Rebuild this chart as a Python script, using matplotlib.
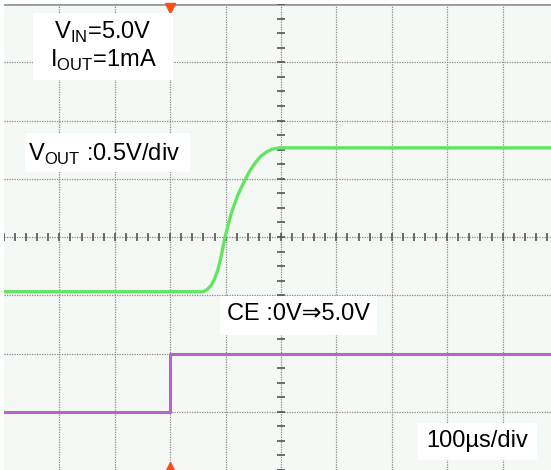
import matplotlib
matplotlib.use("Agg")
import matplotlib.pyplot as plt
from matplotlib.patches import Rectangle
import numpy as np

plt.rcParams['font.family'] = ['Liberation Sans', 'DejaVu Sans']
plt.rcParams['mathtext.fontset'] = 'custom'
plt.rcParams['mathtext.rm'] = 'Liberation Sans'

# traces in divisions (x: 100us/div, y: screen divisions)
vout_t = [-5, -1.40, -1.33, -1.26, -1.20, -1.14, -1.08, -1.01, -0.90, -0.78, -0.66,
          -0.56, -0.46, -0.36, -0.26, -0.15, -0.02, 5]
vout_v = [-0.94, -0.94, -0.90, -0.83, -0.72, -0.57, -0.33, 0.0, 0.40, 0.72, 0.96,
          1.14, 1.28, 1.39, 1.46, 1.51, 1.53, 1.53]
ce_t = [-5, -2, -2, 5]
ce_v = [-3, -3, -2, -2]
trig_t = -2

fig = plt.figure(figsize=(5.51, 4.70), dpi=100)
fig.patch.set_facecolor('white')
ax = fig.add_axes([4 / 551, 0, 554 / 551, 466 / 470])
ax.set_xlim(-5, 5)
ax.set_ylim(-4, 4)
ax.set_facecolor('#f5f9f5')
for s in ax.spines.values():
    s.set_visible(False)
ax.set_xticks([])
ax.set_yticks([])

# graticule
for gx in range(-4, 5):
    ax.axvline(gx, color='#8a8a8a', lw=0.9, ls=(0, (1, 1)), zorder=1)
for gy in range(-3, 4):
    ax.axhline(gy, color='#8a8a8a', lw=0.9, ls=(0, (1, 1)), zorder=1)
ax.axhline(4, color='#9a9a9a', lw=2, zorder=1)
minor = np.arange(-5, 5.01, 0.2)
ax.plot(minor, np.zeros_like(minor), ls='none', marker='|', ms=6, mew=1.2, color='#555555', zorder=2)
minor_y = np.arange(-4, 4.01, 0.25)
ax.plot(np.zeros_like(minor_y), minor_y, ls='none', marker='_', ms=6, mew=1.2, color='#555555', zorder=2)

# traces
ax.plot(vout_t, vout_v, color='#62e562', lw=2.4, zorder=3, solid_joinstyle='round')
ax.plot(ce_t, ce_v, color='#b764cf', lw=2.2, zorder=3)

# trigger markers
ax.plot([trig_t], [3.93], marker='v', ms=7, color='#ff4a1a', zorder=4, clip_on=False)
ax.plot([trig_t], [-3.95], marker='^', ms=7, color='#ff4a1a', zorder=4, clip_on=False)

# labels
boxes = [(-4.48, 2.69, 2.53, 1.15), (-4.62, 1.11, 2.98, 0.67),
         (-1.10, -1.68, 2.83, 0.67), (2.47, -3.83, 2.15, 0.64)]
for bx, by, bw, bh in boxes:
    ax.add_patch(Rectangle((bx, by), bw, bh, facecolor='white', edgecolor='none', zorder=5))

fs = 17
ax.text(-3.21, 3.52, r'V$_{\mathrm{IN}}$=5.0V', fontsize=fs, ha='center', va='center', zorder=6)
ax.text(-3.21, 3.04, r'I$_{\mathrm{OUT}}$=1mA', fontsize=fs, ha='center', va='center', zorder=6)
ax.text(-3.2, 1.42, r'V$_{\mathrm{OUT}}$ :0.5V/div', fontsize=fs, ha='center', va='center', zorder=6)
ax.text(0.31, -1.32, 'CE :0V⇒5.0V', fontsize=fs, ha='center', va='center', zorder=6)
ax.text(3.54, -3.50, '100µs/div', fontsize=fs, ha='center', va='center', zorder=6)

fig.savefig('out.png', dpi=100, facecolor='white')
